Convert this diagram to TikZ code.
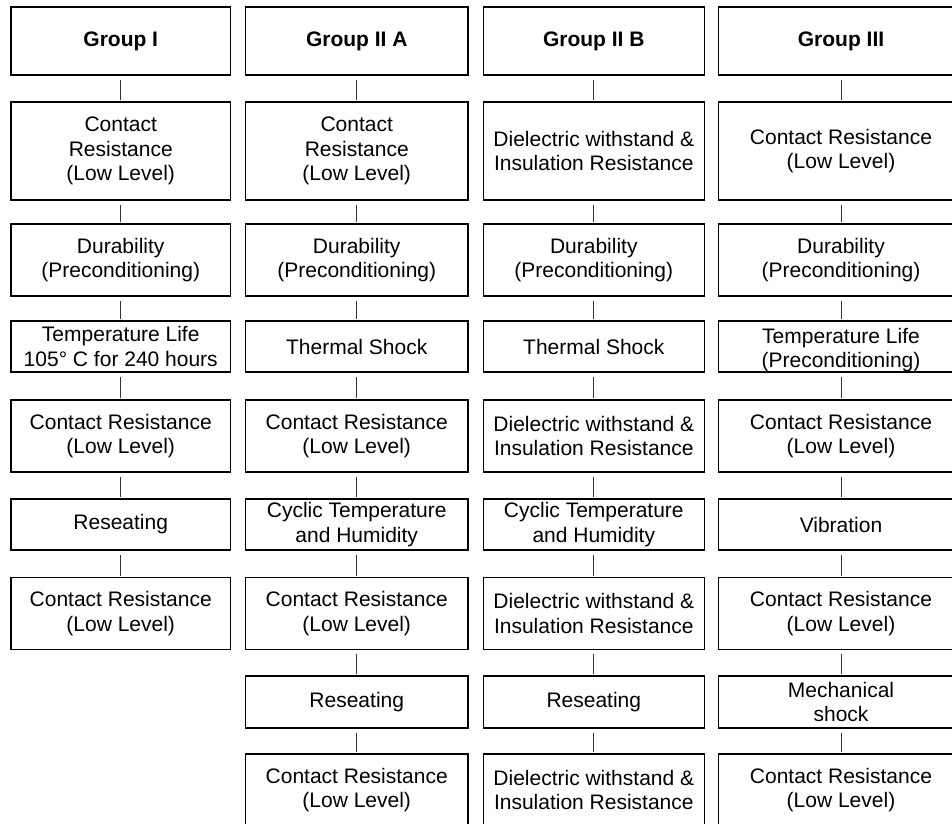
\documentclass[tikz,border=0pt]{standalone}
\usepackage{fontspec}
\setmainfont{Liberation Sans}
\tikzset{
  test/.style={draw,line width=1.6pt,inner sep=0pt,align=center,
    font=\fontsize{21pt}{24.5pt}\selectfont},
  head/.style={test,minimum height=68pt,font=\fontsize{21pt}{24.5pt}\selectfont\bfseries},
  big/.style={test,minimum height=98pt},
  mid/.style={test,minimum height=72pt},
  low/.style={test,minimum height=51.5pt},
  link/.style={line width=1pt,black!80,shorten <=4pt,shorten >=1pt}
}
\begin{document}
\begin{tikzpicture}[x=1pt,y=-1pt]
        \useasboundingbox (0,0) rectangle (952,823);
        \fill[white] (0,0) rectangle (952,823);
        \clip (0,0) rectangle (952,823);
        % Group I
        \begin{scope}[xshift=120.75pt,every node/.append style={minimum width=219.5pt}]
          \node[head](a1) at(0,41){Group I};
          \node[big](a2) at(0,151){Contact\\Resistance\\(Low Level)};
          \node[mid](a3) at(0,260){Durability\\(Preconditioning)};
          \node[low](a4) at(0,346.5){Temperature Life\\105° C for 240 hours};
          \node[mid](a5) at(0,436){Contact Resistance\\(Low Level)};
          \node[low](a6) at(0,524.5){Reseating};
          \node[mid](a7) at(0,613.5){Contact Resistance\\(Low Level)};
        \end{scope}
        % Group II A
        \begin{scope}[xshift=356.75pt,every node/.append style={minimum width=222.5pt}]
          \node[head](b1) at(0,41){Group II A};
          \node[big](b2) at(0,151){Contact\\Resistance\\(Low Level)};
          \node[mid](b3) at(0,260){Durability\\(Preconditioning)};
          \node[low](b4) at(0,346.5){Thermal Shock};
          \node[mid](b5) at(0,436){Contact Resistance\\(Low Level)};
          \node[low](b6) at(0,524.5){Cyclic Temperature\\and Humidity};
          \node[mid](b7) at(0,613.5){Contact Resistance\\(Low Level)};
          \node[low](b8) at(0,702){Reseating};
          \node[mid](b9) at(0,790){Contact Resistance\\(Low Level)};
        \end{scope}
        % Group II B
        \begin{scope}[xshift=593.8pt,every node/.append style={minimum width=221pt}]
          \node[head](c1) at(0,41){Group II B};
          \node[big](c2) at(0,151){Dielectric withstand \&\\Insulation Resistance};
          \node[mid](c3) at(0,260){Durability\\(Preconditioning)};
          \node[low](c4) at(0,346.5){Thermal Shock};
          \node[mid](c5) at(0,436){Dielectric withstand \&\\Insulation Resistance};
          \node[low](c6) at(0,524.5){Cyclic Temperature\\and Humidity};
          \node[mid](c7) at(0,613.5){Dielectric withstand \&\\Insulation Resistance};
          \node[low](c8) at(0,702){Reseating};
          \node[mid](c9) at(0,790){Dielectric withstand \&\\Insulation Resistance};
        \end{scope}
        % Group III
        \begin{scope}[xshift=841pt,every node/.append style={minimum width=245pt}]
          \node[head](d1) at(0,41){Group III};
          \node[big](d2) at(0,151){Contact Resistance\\(Low Level)};
          \node[mid](d3) at(0,260){Durability\\(Preconditioning)};
          \node[low](d4) at(0,346.5){\rule{0pt}{22.5pt}Temperature Life\\(Preconditioning)};
          \node[mid](d5) at(0,436){Contact Resistance\\(Low Level)};
          \node[low](d6) at(0,524.5){Vibration};
          \node[mid](d7) at(0,613.5){Contact Resistance\\(Low Level)};
          \node[low](d8) at(0,702){Mechanical\\shock};
          \node[mid](d9) at(0,790){Contact Resistance\\(Low Level)};
        \end{scope}
        % connectors
        \foreach \i [count=\j from 2] in {1,...,6}
          \draw[link](a\i.south)--(a\j.north);
        \foreach \col in {b,c,d}
          \foreach \i [count=\j from 2] in {1,...,8}
            \draw[link](\col\i.south)--(\col\j.north);
      \end{tikzpicture}
\end{document}
